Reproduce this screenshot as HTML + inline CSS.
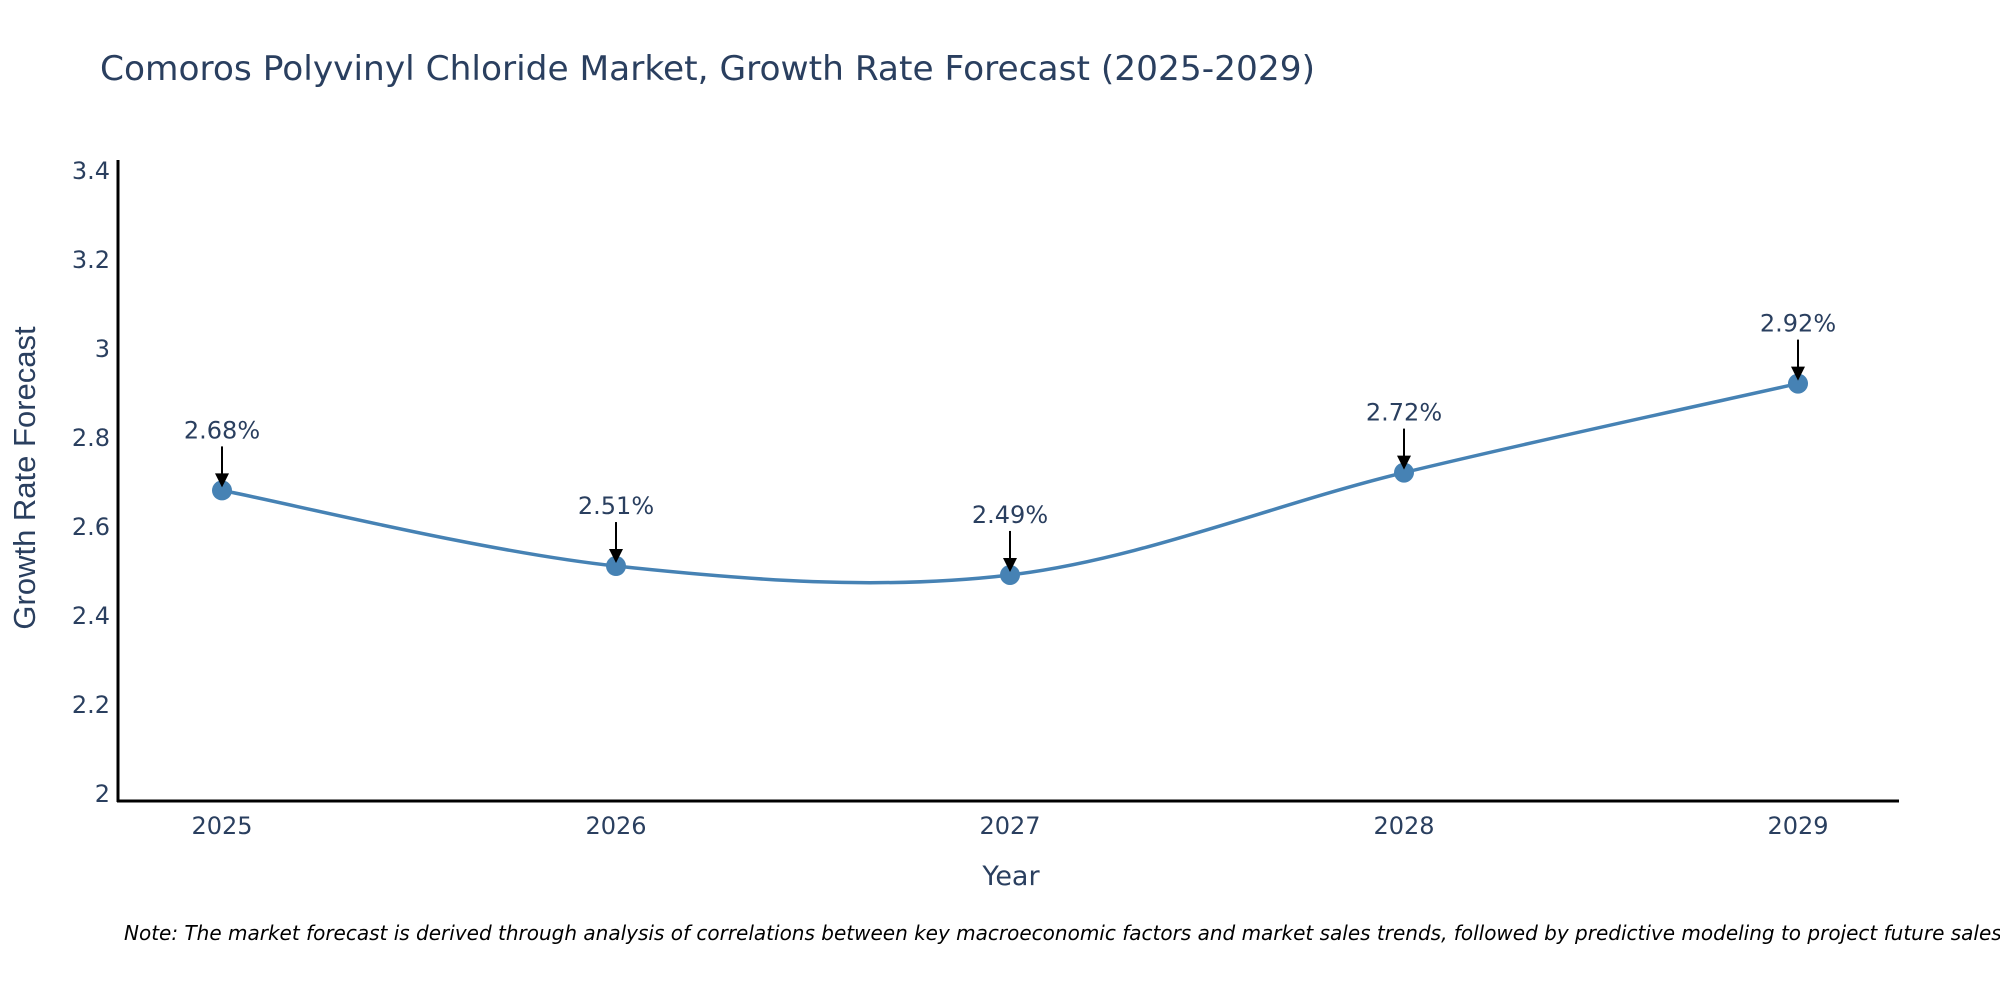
<!DOCTYPE html>
<html><head><meta charset="utf-8"><style>
html,body{margin:0;padding:0;background:#fff;}
svg{display:block;font-family:"DejaVu Sans","Liberation Sans",sans-serif;}
</style></head><body>
<svg id="chart" width="2000" height="1000" viewBox="0 0 2000 1000">
<rect width="2000" height="1000" fill="#fff"/>
<text x="100" y="80" font-size="34" fill="#2a3f5f" textLength="1215" lengthAdjust="spacingAndGlyphs">Comoros Polyvinyl Chloride Market, Growth Rate Forecast (2025-2029)</text>
<g id="yticks"></g>
<g id="xticks"></g>
<line x1="118" y1="160" x2="118" y2="802" stroke="#000" stroke-width="3"/>
<line x1="117" y1="801" x2="1899" y2="801" stroke="#000" stroke-width="3"/>
<path id="line" fill="none" stroke="#4682b4" stroke-width="3.5"/>
<g id="points"></g>
<g id="annots"></g>
<text x="1011" y="885" font-size="27" fill="#2a3f5f" text-anchor="middle">Year</text>
<text transform="translate(35,478) rotate(-90)" font-size="31" fill="#2a3f5f" text-anchor="middle" font-family="Liberation Sans, sans-serif">Growth Rate Forecast</text>
<text x="124" y="940" font-size="20" font-style="italic" fill="#000">Note: The market forecast is derived through analysis of correlations between key macroeconomic factors and market sales trends, followed by predictive modeling to project future sales.</text>
</svg>
<script>
const years = [2025, 2026, 2027, 2028, 2029];
const values = [2.68, 2.51, 2.49, 2.72, 2.92];
const labels = ["2.68%", "2.51%", "2.49%", "2.72%", "2.92%"];
const yTicks = [2, 2.2, 2.4, 2.6, 2.8, 3, 3.2, 3.4];

const NS = "http://www.w3.org/2000/svg";
function X(yr){ return 222 + (yr - years[0]) * (1798 - 222) / (years[years.length-1] - years[0]); }
function Y(v){ return 793 - (v - 2) / 1.4 * 623; }
function mk(tag, attrs, parent){ const e=document.createElementNS(NS,tag); for(const k in attrs) e.setAttribute(k,attrs[k]); parent.appendChild(e); return e; }

const yg=document.getElementById('yticks');
yTicks.forEach(t=>{
  const e=mk('text',{x:110,y:Y(t)+9,'font-size':24,fill:'#2a3f5f','text-anchor':'end'},yg);
  e.textContent=String(t);
  
  
});
const xg=document.getElementById('xticks');
years.forEach(yr=>{
  const e=mk('text',{x:X(yr),y:834,'font-size':24,fill:'#2a3f5f','text-anchor':'middle'},xg);
  e.textContent=String(yr);
  
  
});

const pts=years.map((yr,i)=>[X(yr),Y(values[i])]);
let d='M'+pts[0][0]+','+pts[0][1];
for(let i=0;i<pts.length-1;i++){
  const p0=pts[Math.max(i-1,0)],p1=pts[i],p2=pts[i+1],p3=pts[Math.min(i+2,pts.length-1)];
  const k=1/6;
  const c1=[p1[0]+(p2[0]-p0[0])*k,p1[1]+(p2[1]-p0[1])*k];
  const c2=[p2[0]-(p3[0]-p1[0])*k,p2[1]-(p3[1]-p1[1])*k];
  d+=' C'+c1+' '+c2+' '+p2;
}
document.getElementById('line').setAttribute('d',d);

const pg=document.getElementById('points'), ag=document.getElementById('annots');
pts.forEach((p,i)=>{
  const c=mk('circle',{cx:p[0],cy:p[1],r:10,fill:'#4682b4'},pg);
  
  
  const l=mk('line',{x1:p[0],y1:p[1]-44,x2:p[0],y2:p[1]-16,stroke:'#000','stroke-width':2},ag);
  
  
  const h=mk('polygon',{points:(p[0]-7)+','+(p[1]-17)+' '+(p[0]+7)+','+(p[1]-17)+' '+p[0]+','+(p[1]-3),fill:'#000'},ag);
  
  
  const t=mk('text',{x:p[0],y:p[1]-52,'font-size':24,fill:'#2a3f5f','text-anchor':'middle'},ag);
  t.textContent=labels[i];
  
  
});
</script>
</body></html>
